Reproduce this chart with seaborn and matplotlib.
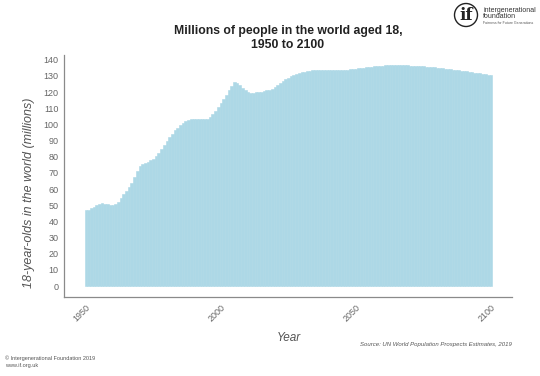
import numpy as np
import pandas as pd
import matplotlib
matplotlib.use("Agg")
import matplotlib.pyplot as plt
import seaborn as sns
from matplotlib.patches import Circle

# Data: millions of 18-year-olds worldwide, one value per year
years = list(range(1950, 2101))
aged_18 = [
    46.8, 47.3, 48.0, 49.0, 50.2, 51.0, 51.3, 51.0, 50.5, 50.0,   # 1950s
    50.0, 50.8, 52.3, 54.5, 56.8, 58.8, 61.0, 64.0, 67.5, 71.0,   # 1960s
    74.0, 75.5, 76.3, 77.0, 77.8, 78.8, 80.5, 82.5, 85.0, 87.5,   # 1970s
    89.8, 92.0, 94.2, 96.3, 98.0, 99.5, 100.8, 101.8, 102.6, 103.2,  # 1980s
    103.5, 103.5, 103.4, 103.2, 103.2, 103.5, 104.5, 106.2, 108.5, 111.0,  # 1990s
    113.5, 115.8, 118.3, 121.0, 123.8, 126.0, 125.8, 124.2, 122.5, 121.0,  # 2000s
    120.0, 119.6, 119.7, 119.9, 120.1, 120.3, 120.6, 121.0, 121.5, 122.2,  # 2010s
    123.2, 124.3, 125.5, 126.7, 127.8, 128.8, 129.7, 130.5, 131.2, 131.8,  # 2020s
    132.3, 132.7, 133.0, 133.2, 133.4, 133.5, 133.6, 133.6, 133.6, 133.5,  # 2030s
    133.5, 133.4, 133.4, 133.4, 133.5, 133.6, 133.7, 133.9, 134.1, 134.3,  # 2040s
    134.5, 134.7, 134.9, 135.1, 135.3, 135.5, 135.7, 135.9, 136.1, 136.2,  # 2050s
    136.4, 136.5, 136.6, 136.7, 136.7, 136.7, 136.7, 136.7, 136.6, 136.5,  # 2060s
    136.4, 136.3, 136.2, 136.1, 136.0, 135.9, 135.8, 135.6, 135.5, 135.3,  # 2070s
    135.1, 134.9, 134.7, 134.5, 134.3, 134.1, 133.9, 133.7, 133.5, 133.3,  # 2080s
    133.1, 132.9, 132.7, 132.4, 132.1, 131.8, 131.5, 131.2, 130.9, 130.6,  # 2090s
    130.3,  # 2100
]
x_ticks = [1950, 2000, 2050, 2100]
y_ticks = list(range(0, 141, 10))

df = pd.DataFrame({"Year": years, "Aged18": aged_18})

sns.set_style("white")
plt.rcParams["font.family"] = ["Liberation Sans", "DejaVu Sans"]

fig = plt.figure(figsize=(5.4, 3.76), dpi=100)
ax = fig.add_axes([0.1185, 0.21, 0.8295, 0.644])

bar_col = "#ADD8E6"
sns.barplot(data=df, x="Year", y="Aged18", native_scale=True, width=1.0,
            color=bar_col, saturation=1, edgecolor=bar_col, linewidth=0.4,
            ax=ax)

ax.set_xlim(1941.9, 2107.8)
ax.set_ylim(-6.8, 143)
ax.set_xticks(x_ticks)
ax.set_xticklabels([str(t) for t in x_ticks], rotation=45, ha="right",
                   rotation_mode="anchor")
ax.set_yticks(y_ticks)
ax.tick_params(axis="both", colors="#666666", labelsize=6.5, length=2.5,
               width=0.6, direction="out")
ax.tick_params(axis="x", pad=1.5)
ax.tick_params(axis="y", pad=1.5)
for s in ["top", "right"]:
    ax.spines[s].set_visible(False)
for s in ["left", "bottom"]:
    ax.spines[s].set_color("#8a8a8a")
    ax.spines[s].set_linewidth(0.9)

ax.set_xlabel("Year", fontsize=8.5, style="italic", color="#555555")
ax.xaxis.set_label_coords(0.503, -0.145)
ax.set_ylabel("18-year-olds in the world (millions)", fontsize=9,
              style="italic", color="#555555")
ax.yaxis.set_label_coords(-0.065, 0.43)

fig.text(0.533, 0.899, "Millions of people in the world aged 18,\n1950 to 2100",
         ha="center", va="center", fontsize=8.8, fontweight="bold",
         color="#222222", linespacing=1.15)

fig.text(0.948, 0.083, "Source: UN World Population Prospects Estimates, 2019",
         ha="right", va="center", fontsize=4.3, style="italic", color="#555555")

fig.text(0.009, 0.048, "\u00a9 Intergenerational Foundation 2019", ha="left",
         va="center", fontsize=4.0, color="#555555")
fig.text(0.009, 0.029, "www.if.org.uk", ha="left", va="center", fontsize=4.0,
         color="#555555")

# logo
logo = Circle((4.66, (376 - 15) / 100), 0.115, transform=fig.dpi_scale_trans,
              fill=False, edgecolor="#222222", linewidth=1.0)
fig.patches.append(logo)
fig.text(466 / 540, 1 - 16 / 376, "if", ha="center", va="center",
         fontsize=12, fontweight="bold", family="DejaVu Serif", color="#222222")
fig.text(483 / 540, 1 - 10 / 376, "intergenerational", ha="left", va="center",
         fontsize=5.0, color="#333333")
fig.text(483 / 540, 1 - 16.5 / 376, "foundation", ha="left", va="center",
         fontsize=5.0, color="#333333")
fig.text(483 / 540, 1 - 23 / 376, "Fairness for Future Generations", ha="left",
         va="center", fontsize=2.5, color="#555555")

fig.savefig("out.png", dpi=100)
